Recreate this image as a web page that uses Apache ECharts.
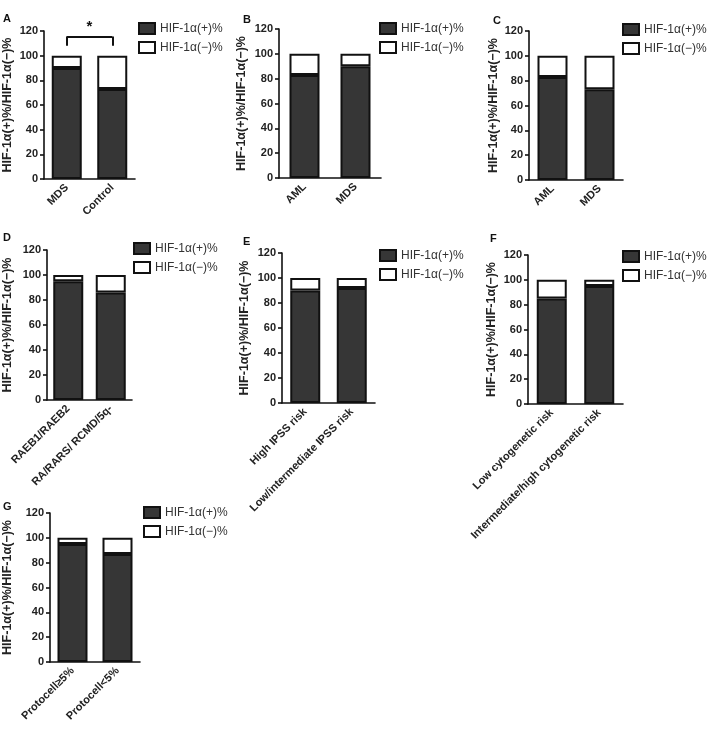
<!DOCTYPE html>
<html><head><meta charset="utf-8">
<script src="https://cdn.jsdelivr.net/npm/echarts@6/dist/echarts.min.js"></script>
<style>html,body{margin:0;padding:0;background:#fff}#c{width:709px;height:748px}</style>
</head><body><div id="c"></div>
<script>
// ---- data ----
var catsA = ['MDS', 'Control'];
var posA = [90, 73];
var negA = [10, 27];
var catsB = ['AML', 'MDS'];
var posB = [83, 90];
var negB = [17, 10];
var catsC = ['AML', 'MDS'];
var posC = [83, 73];
var negC = [17, 27];
var catsD = ['RAEB1/RAEB2', 'RA/RARS/ RCMD/5q-'];
var posD = [95, 86];
var negD = [5, 14];
var catsE = ['High IPSS risk', 'Low/intermediate IPSS risk'];
var posE = [90, 92];
var negE = [10, 8];
var catsF = ['Low cytogenetic risk', 'Intermediate/high cytogenetic risk'];
var posF = [85, 95];
var negF = [15, 5];
var catsG = ['Protocell\u22655%', 'Protocell<5%'];
var posG = [95, 87];
var negG = [5, 13];
var yTicks = [0, 20, 40, 60, 80, 100, 120];
var panelLetters = ['A', 'B', 'C', 'D', 'E', 'F', 'G'];
var posName = 'HIF-1\u03b1(+)%';
var negName = 'HIF-1\u03b1(\u2212)%';
var yTitle = 'HIF-1\u03b1(+)%/HIF-1\u03b1(\u2212)%';
var sigStar = '*';

var panels = [
  {cats: catsA, pos: posA, neg: negA, g: {l: 40, r: 135, t: 31, b: 179}, leg: {x: 138, y: 22}, let: {x: 3, y: 13}, gap: 30},
  {cats: catsB, pos: posB, neg: negB, g: {l: 279, r: 381, t: 29, b: 178}, leg: {x: 379, y: 22}, let: {x: 243, y: 14}, gap: 31},
  {cats: catsC, pos: posC, neg: negC, g: {l: 529, r: 623, t: 31, b: 180}, leg: {x: 622, y: 23}, let: {x: 493, y: 15}, gap: 29},
  {cats: catsD, pos: posD, neg: negD, g: {l: 40, r: 132, t: 250, b: 400}, leg: {x: 133, y: 242}, let: {x: 3, y: 232}, gap: 33},
  {cats: catsE, pos: posE, neg: negE, g: {l: 282, r: 375, t: 253, b: 403}, leg: {x: 379, y: 249}, let: {x: 243, y: 236}, gap: 31},
  {cats: catsF, pos: posF, neg: negF, g: {l: 528, r: 623, t: 255, b: 404}, leg: {x: 622, y: 250}, let: {x: 490, y: 233}, gap: 30},
  {cats: catsG, pos: posG, neg: negG, g: {l: 49, r: 140, t: 513, b: 662}, leg: {x: 143, y: 506}, let: {x: 3, y: 501}, gap: 36}
];

var W = 709, H = 748;
var FONT = '"Liberation Sans", Arial, Helvetica, sans-serif';
var option = {animation: false, backgroundColor: '#fff', grid: [], xAxis: [], yAxis: [], series: [], legend: [], title: []};

panels.forEach(function (p, i) {
  option.grid.push({left: p.g.l, width: p.g.r - p.g.l, top: p.g.t, height: p.g.b - p.g.t, containLabel: false});
  option.xAxis.push({
    type: 'category', gridIndex: i, data: p.cats,
    axisLine: {lineStyle: {color: '#111', width: 1.6}},
    axisTick: {alignWithLabel: true, length: 5, lineStyle: {color: '#111', width: 1.6}},
    axisLabel: {interval: 0, rotate: 45, margin: 7, fontSize: 11, fontWeight: 'bold', color: '#222', fontFamily: FONT}
  });
  option.yAxis.push({
    type: 'value', gridIndex: i, min: yTicks[0], max: yTicks[yTicks.length - 1], interval: 20,
    name: yTitle, nameLocation: 'middle', nameGap: p.gap,
    nameTextStyle: {fontSize: 12.5, fontWeight: 'bold', color: '#222', fontFamily: FONT},
    axisLine: {show: true, lineStyle: {color: '#111', width: 1.6}},
    axisTick: {show: true, length: 4, lineStyle: {color: '#111', width: 1.6}},
    splitLine: {show: false},
    axisLabel: {margin: 6, fontSize: 11, fontWeight: 'bold', color: '#222', fontFamily: FONT}
  });
  var s1 = {
    name: posName, type: 'bar', stack: 's' + i, xAxisIndex: i, yAxisIndex: i, data: p.pos,
    barWidth: 30, itemStyle: {color: '#363636', borderColor: '#111', borderWidth: 2}
  };
  var s2 = {
    name: negName, type: 'bar', stack: 's' + i, xAxisIndex: i, yAxisIndex: i, data: p.neg,
    barWidth: 30, itemStyle: {color: '#ffffff', borderColor: '#111', borderWidth: 2}
  };
  if (i === 0) {
    s2.markLine = {
      silent: true, symbol: 'none', animation: false,
      lineStyle: {color: '#111', width: 2, type: 'solid'},
      label: {show: false},
      data: [
        [{coord: [0, 108]}, {coord: [0, 115.5]}],
        [{coord: [1, 108]}, {coord: [1, 115.5]}],
        [{coord: [0, 115.5], label: {show: true, formatter: sigStar, position: 'insideMiddleTop', distance: 2, fontSize: 15, fontWeight: 'bold', color: '#111', fontFamily: FONT}}, {coord: [1, 115.5]}]
      ]
    };
  }
  option.series.push(s1, s2);
  option.legend.push({
    orient: 'vertical', left: p.leg.x, top: p.leg.y, itemWidth: 16, itemHeight: 11, itemGap: 6, itemTextGap: 7,
    icon: 'rect', selectedMode: false, padding: 0,
    data: [
      {name: posName, itemStyle: {color: '#363636', borderColor: '#111', borderWidth: 2}},
      {name: negName, itemStyle: {color: '#ffffff', borderColor: '#111', borderWidth: 2}}
    ],
    textStyle: {fontSize: 12, color: '#333', fontFamily: FONT, lineHeight: 12}
  });
  option.title.push({
    text: panelLetters[i], left: p.let.x, top: p.let.y, padding: 0,
    textStyle: {fontSize: 11, fontWeight: 'bold', color: '#111', fontFamily: FONT}
  });
});

var chart = echarts.init(document.getElementById('c'), null, {renderer: 'canvas', width: W, height: H});
chart.setOption(option);
</script>
</body></html>
